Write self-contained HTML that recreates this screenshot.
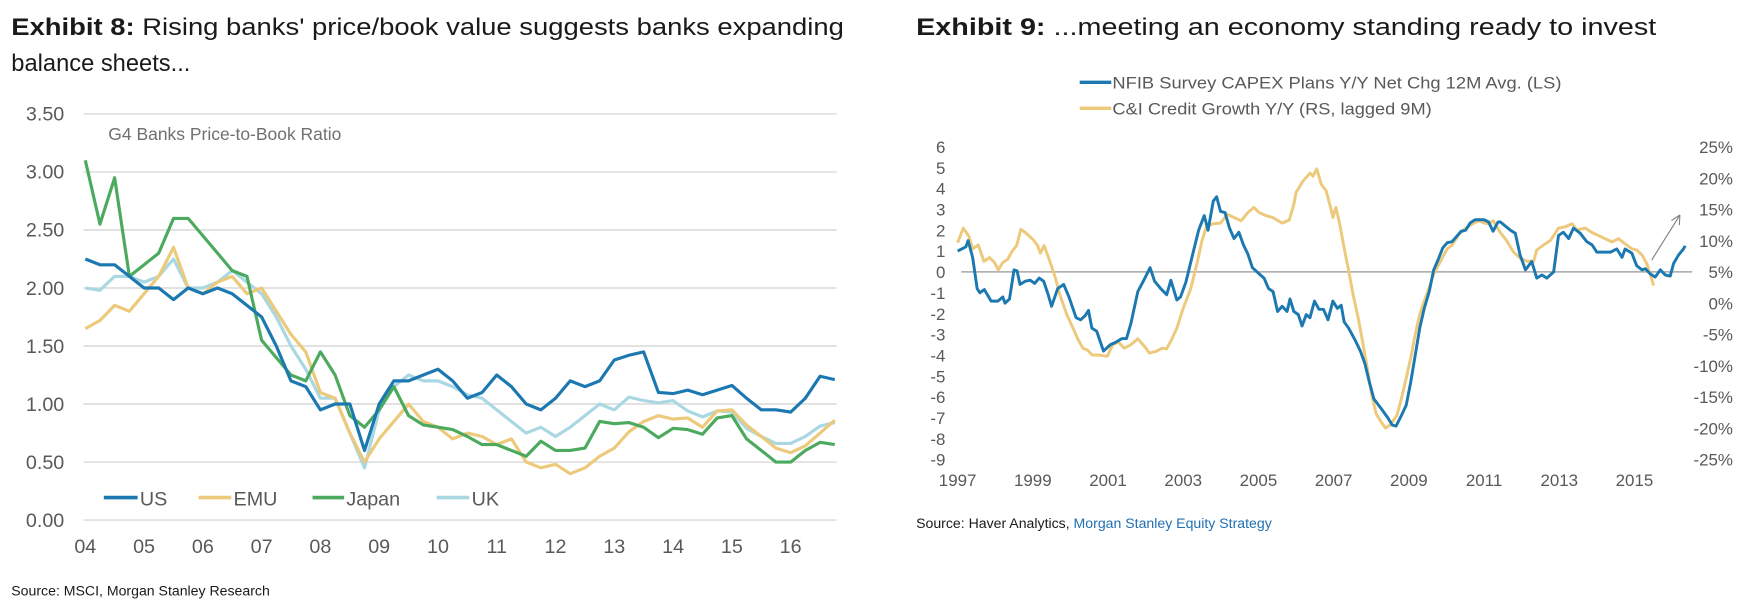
<!DOCTYPE html>
<html><head><meta charset="utf-8">
<style>
html,body{margin:0;padding:0;background:#fff;}
svg{display:block;font-family:"Liberation Sans",Arial,sans-serif;}
</style></head>
<body>
<svg id="root" width="1760" height="611" viewBox="0 0 1560 541.6" preserveAspectRatio="none" xmlns="http://www.w3.org/2000/svg">
  <g fill="#1a1a1a" font-size="21">
    <text x="10" y="31" textLength="738" lengthAdjust="spacingAndGlyphs"><tspan font-weight="bold">Exhibit 8:</tspan>  Rising banks' price/book value suggests banks expanding</text>
    <text x="10" y="63">balance sheets...</text>
  </g>
  <g fill="#1a1a1a" font-size="21">
    <text x="812" y="31" textLength="656" lengthAdjust="spacingAndGlyphs"><tspan font-weight="bold">Exhibit 9:</tspan>  ...meeting an economy standing ready to invest</text>
  </g>
  <g id="left"></g>
  <g id="right"></g>
  <text x="10" y="528" font-size="12.5" fill="#1a1a1a">Source: MSCI, Morgan Stanley Research</text>
  <text x="812" y="468" font-size="12.5" fill="#1a1a1a">Source: Haver Analytics, <tspan fill="#1f6fb5">Morgan Stanley Equity Strategy</tspan></text>
</svg>
<script>
// ---- Exhibit 8 data (quarterly) ----
const pbDates = [2004,2004.25,2004.5,2004.75,2005,2005.25,2005.5,2005.75,2006,2006.25,2006.5,2006.75,2007,2007.25,2007.5,2007.75,2008,2008.25,2008.5,2008.75,2009,2009.25,2009.5,2009.75,2010,2010.25,2010.5,2010.75,2011,2011.25,2011.5,2011.75,2012,2012.25,2012.5,2012.75,2013,2013.25,2013.5,2013.75,2014,2014.25,2014.5,2014.75,2015,2015.25,2015.5,2015.75,2016,2016.25,2016.5,2016.75];
const usValues = [2.25,2.2,2.2,2.1,2.0,2.0,1.9,2.0,1.95,2.0,1.95,1.85,1.75,1.5,1.2,1.15,0.95,1.0,1.0,0.6,1.0,1.2,1.2,1.25,1.3,1.2,1.05,1.1,1.25,1.15,1.0,0.95,1.05,1.2,1.15,1.2,1.38,1.42,1.45,1.1,1.09,1.12,1.08,1.12,1.16,1.05,0.95,0.95,0.93,1.05,1.24,1.21];
const emuValues = [1.65,1.72,1.85,1.8,1.95,2.1,2.35,2.0,1.95,2.05,2.1,1.95,2.0,1.8,1.6,1.45,1.1,1.05,0.75,0.5,0.7,0.85,1.0,0.85,0.8,0.7,0.75,0.72,0.65,0.7,0.5,0.45,0.48,0.4,0.45,0.55,0.62,0.76,0.85,0.9,0.87,0.88,0.8,0.94,0.95,0.82,0.72,0.62,0.58,0.64,0.75,0.86];
const japanValues = [3.1,2.55,2.95,2.1,2.2,2.3,2.6,2.6,2.45,2.3,2.15,2.1,1.55,1.4,1.25,1.2,1.45,1.25,0.9,0.8,0.95,1.15,0.9,0.82,0.8,0.78,0.72,0.65,0.65,0.6,0.55,0.68,0.6,0.6,0.62,0.85,0.83,0.84,0.8,0.71,0.79,0.78,0.74,0.88,0.9,0.7,0.6,0.5,0.5,0.6,0.67,0.65];
const ukValues = [2.0,1.98,2.1,2.1,2.05,2.1,2.25,2.0,2.0,2.05,2.15,2.05,1.95,1.75,1.5,1.3,1.05,1.05,0.75,0.45,0.95,1.15,1.25,1.2,1.2,1.15,1.08,1.05,0.95,0.85,0.75,0.8,0.72,0.8,0.9,1.0,0.95,1.06,1.03,1.01,1.03,0.94,0.89,0.94,0.93,0.79,0.72,0.66,0.66,0.72,0.81,0.84];
const pbTicks = ["0.00","0.50","1.00","1.50","2.00","2.50","3.00","3.50"];
const pbYearLabels = ["04","05","06","07","08","09","10","11","12","13","14","15","16"];

// ---- Exhibit 9 data ----
const nfibDates = [1997.0,1997.22,1997.28,1997.4,1997.52,1997.59,1997.71,1997.89,1998.07,1998.2,1998.26,1998.38,1998.5,1998.58,1998.66,1998.8,1998.93,1999.05,1999.17,1999.29,1999.41,1999.5,1999.66,1999.82,1999.96,2000.15,2000.27,2000.39,2000.48,2000.57,2000.7,2000.88,2001.06,2001.18,2001.37,2001.49,2001.61,2001.79,2001.98,2002.12,2002.24,2002.4,2002.56,2002.67,2002.83,2002.93,2003.07,2003.26,2003.41,2003.56,2003.66,2003.8,2003.89,2003.99,2004.11,2004.23,2004.35,2004.48,2004.6,2004.72,2004.84,2005.02,2005.15,2005.27,2005.39,2005.51,2005.63,2005.76,2005.84,2005.94,2006.06,2006.16,2006.27,2006.37,2006.49,2006.61,2006.73,2006.85,2006.98,2007.1,2007.2,2007.28,2007.4,2007.58,2007.71,2007.83,2007.95,2008.07,2008.26,2008.44,2008.56,2008.66,2008.8,2008.93,2009.05,2009.17,2009.29,2009.41,2009.54,2009.66,2009.78,2009.9,2010.02,2010.15,2010.27,2010.39,2010.51,2010.63,2010.76,2011.0,2011.12,2011.24,2011.37,2011.43,2011.7,2011.83,2011.96,2012.1,2012.27,2012.4,2012.54,2012.67,2012.85,2012.98,2013.11,2013.25,2013.38,2013.56,2013.73,2013.87,2014.0,2014.18,2014.36,2014.53,2014.67,2014.75,2014.93,2015.06,2015.2,2015.29,2015.42,2015.55,2015.69,2015.82,2015.95,2016.04,2016.17,2016.3,2016.35];
const nfibValues = [1.0,1.2,1.5,0.7,-0.8,-1.0,-0.85,-1.4,-1.4,-1.2,-1.5,-1.3,0.1,0.05,-0.6,-0.45,-0.4,-0.55,-0.3,-0.45,-1.1,-1.65,-0.8,-0.6,-1.2,-2.2,-2.3,-2.1,-1.85,-2.7,-2.85,-3.8,-3.5,-3.4,-3.2,-3.2,-2.45,-0.95,-0.3,0.2,-0.45,-0.8,-1.1,-0.4,-1.35,-1.2,-0.5,0.9,2.0,2.7,2.0,3.4,3.6,2.9,2.85,2.1,1.6,1.9,1.3,0.85,0.2,-0.1,-0.3,-0.8,-0.95,-1.9,-1.65,-1.9,-1.3,-1.9,-2.05,-2.6,-2.05,-2.2,-1.4,-1.8,-1.8,-2.3,-1.4,-1.75,-1.6,-2.4,-2.7,-3.3,-3.8,-4.4,-5.3,-6.1,-6.55,-7.0,-7.35,-7.4,-6.9,-6.4,-5.3,-4.0,-2.7,-1.75,-0.95,0.1,0.6,1.15,1.4,1.45,1.7,1.95,2.0,2.35,2.5,2.5,2.4,1.95,2.4,2.4,2.0,1.85,0.8,0.1,0.5,-0.3,-0.15,-0.3,0,1.75,1.9,1.6,2.1,1.85,1.45,1.3,0.95,0.95,0.95,1.1,0.7,1.1,0.9,0.3,0.1,0.15,-0.1,-0.25,0.1,-0.15,-0.2,0.4,0.8,1.1,1.25];
const ciDates = [1997.0,1997.15,1997.3,1997.4,1997.55,1997.7,1997.85,1997.98,1998.08,1998.2,1998.33,1998.45,1998.57,1998.68,1998.8,1999.0,1999.12,1999.2,1999.3,1999.48,1999.6,1999.72,1999.9,2000.03,2000.2,2000.33,2000.45,2000.58,2000.76,2000.98,2001.12,2001.27,2001.43,2001.6,2001.79,2001.98,2002.1,2002.28,2002.44,2002.56,2002.7,2002.83,2003.0,2003.2,2003.38,2003.5,2003.62,2003.8,2003.99,2004.17,2004.35,2004.54,2004.72,2004.88,2005.02,2005.2,2005.38,2005.63,2005.82,2005.94,2006.0,2006.18,2006.37,2006.45,2006.55,2006.67,2006.8,2006.92,2006.98,2007.06,2007.16,2007.28,2007.4,2007.52,2007.65,2007.77,2007.89,2008.01,2008.13,2008.26,2008.38,2008.5,2008.68,2008.8,2008.93,2009.05,2009.17,2009.29,2009.41,2009.54,2009.66,2009.84,2010.02,2010.15,2010.33,2010.51,2010.7,2010.88,2011.0,2011.12,2011.24,2011.43,2011.6,2011.78,2011.96,2012.14,2012.32,2012.4,2012.58,2012.76,2012.98,2013.16,2013.34,2013.47,2013.69,2013.87,2014.05,2014.22,2014.4,2014.58,2014.75,2014.93,2015.06,2015.2,2015.33,2015.42,2015.51];
const ciValues = [9.7,12,10.7,8.7,9.3,6.7,7.3,6.5,5.3,6.5,7,8.3,9.2,11.8,11.3,10.2,9.3,8,9.2,6.2,4,1.3,-1.8,-3.5,-5.8,-7.2,-7.5,-8.3,-8.3,-8.5,-6.7,-6.2,-7.2,-6.7,-5.7,-7,-8,-7.7,-7.2,-7.3,-5.7,-4,-0.8,2.3,6.7,10,12.3,12.7,12.8,14.2,13.7,13.2,14.5,15.3,14.5,14,13.7,12.8,13.3,15.8,17.7,19.5,20.8,20.3,21.5,19,18,15.3,13.7,15.3,12.7,8.8,5.2,1.3,-2.3,-6.2,-10.3,-14.7,-17.7,-19,-20,-19.5,-18,-15.3,-12,-8.8,-5,-1.8,0.3,2.5,4.7,6.7,8.7,9.3,11,12,12.7,13.2,12.8,12.7,13.2,11.3,10,8.2,7.2,6.7,6.7,8.5,9.3,10,12,12.2,12.7,11.7,12,11.3,10.8,10.3,9.8,10.3,9.5,8.7,8.5,7.7,6.3,4.7,2.8];
const lsTicks = [6,5,4,3,2,1,0,-1,-2,-3,-4,-5,-6,-7,-8,-9];
const rsTicks = ["25%","20%","15%","10%","5%","0%","-5%","-10%","-15%","-20%","-25%"];
const yearTicks = [1997,1999,2001,2003,2005,2007,2009,2011,2013,2015];

const NS = "http://www.w3.org/2000/svg";
function mk(tag, attrs, parent){const e=document.createElementNS(NS,tag);for(const k in attrs)e.setAttribute(k,attrs[k]);parent.appendChild(e);return e;}
function pathFrom(xs, ys, xf, yf){let d="";for(let i=0;i<xs.length;i++){d+=(i?"L":"M")+xf(xs[i]).toFixed(1)+","+yf(ys[i]).toFixed(1);}return d;}

// ---------- Left chart ----------
const L = document.getElementById("left");
const lx = t => 75.6 + (t-2004)*52.1;
const ly = v => 461 - v*102.86;
pbTicks.forEach((lab,i)=>{
  const v = parseFloat(lab);
  const g = mk("line",{x1:74,x2:741.6,y1:ly(v),y2:ly(v),stroke:"#d9d9d9","stroke-width":1.3},L);
  
  
  const t = mk("text",{x:57,y:ly(v)+6,"text-anchor":"end","font-size":17.5,fill:"#595959"},L);
  t.textContent = lab;
  
  
});
pbYearLabels.forEach((lab,i)=>{
  const t = mk("text",{x:lx(2004+i),y:490,"text-anchor":"middle","font-size":17.5,fill:"#595959"},L);
  t.textContent = lab;
  
  
});
const ct = mk("text",{x:96,y:124,"font-size":15.5,fill:"#707070"},L);
ct.textContent = "G4 Banks Price-to-Book Ratio";


const pbSeries = [
  ["uk-line", ukValues, "#a9d8e3"],
  ["emu-line", emuValues, "#ecc97b"],
  ["japan-line", japanValues, "#4caa5f"],
  ["us-line", usValues, "#1b78b0"]
];
pbSeries.forEach(s=>{
  const p = mk("path",{d:pathFrom(pbDates,s[1],lx,ly),fill:"none",stroke:s[2],"stroke-width":2.8,"stroke-linejoin":"round"},L);
  
  
});
const legL = [["US","#1b78b0",92,124],["EMU","#ecc97b",176,207],["Japan","#4caa5f",277,307],["UK","#a9d8e3",387,418]];
legL.forEach(e=>{
  const g = mk("g",{},L);
  
  
  mk("line",{x1:e[2],x2:e[3]-2,y1:441,y2:441,stroke:e[1],"stroke-width":3.2},g);
  const t = mk("text",{x:e[3],y:448,"font-size":17.5,fill:"#595959"},g);
  t.textContent = e[0];
});

// ---------- Right chart ----------
const R = document.getElementById("right");
const rx = t => 848.8 + (t-1997)*33.33;
const ryL = v => 241 - v*18.47;
const ryR = r => ryL(r*0.3 - 1.5);
const zl = mk("line",{x1:852,x2:1500,y1:ryL(0),y2:ryL(0),stroke:"#a6a6a6","stroke-width":1.3},R);


lsTicks.forEach(v=>{
  const t = mk("text",{x:838,y:ryL(v)+5.5,"text-anchor":"end","font-size":15,fill:"#595959"},R);
  t.textContent = String(v);
  
  
});
rsTicks.forEach(lab=>{
  const t = mk("text",{x:1536,y:ryR(parseFloat(lab))+5.5,"text-anchor":"end","font-size":15,fill:"#595959"},R);
  t.textContent = lab;
  
  
});
yearTicks.forEach(y=>{
  const t = mk("text",{x:rx(y),y:431,"text-anchor":"middle","font-size":15,fill:"#595959"},R);
  t.textContent = String(y);
  
  
});
const ciPath = mk("path",{d:pathFrom(ciDates,ciValues,rx,ryR),fill:"none",stroke:"#ecc97b","stroke-width":2.6,"stroke-linejoin":"round"},R);


const nfPath = mk("path",{d:pathFrom(nfibDates,nfibValues,rx,ryL),fill:"none",stroke:"#1b78b0","stroke-width":2.6,"stroke-linejoin":"round"},R);


const arrow = mk("g",{},R);


mk("line",{x1:1464,y1:230.5,x2:1489,y2:190.6,stroke:"#808080","stroke-width":1},arrow);
mk("path",{d:"M1489,190.6 L1481.5,195.5 M1489,190.6 L1488.5,199.5",stroke:"#808080","stroke-width":1,fill:"none"},arrow);
const legR = [["NFIB Survey CAPEX Plans Y/Y Net Chg 12M Avg. (LS)","#1b78b0",73,398],["C&I Credit Growth Y/Y (RS, lagged 9M)","#ecc97b",96,283]];
legR.forEach(e=>{
  const g = mk("g",{},R);
  
  
  mk("line",{x1:957,x2:985,y1:e[2],y2:e[2],stroke:e[1],"stroke-width":3},g);
  const t = mk("text",{x:986,y:e[2]+5.5,"font-size":15,fill:"#595959",textLength:e[3],lengthAdjust:"spacingAndGlyphs"},g);
  t.textContent = e[0];
});
</script>
</body></html>
